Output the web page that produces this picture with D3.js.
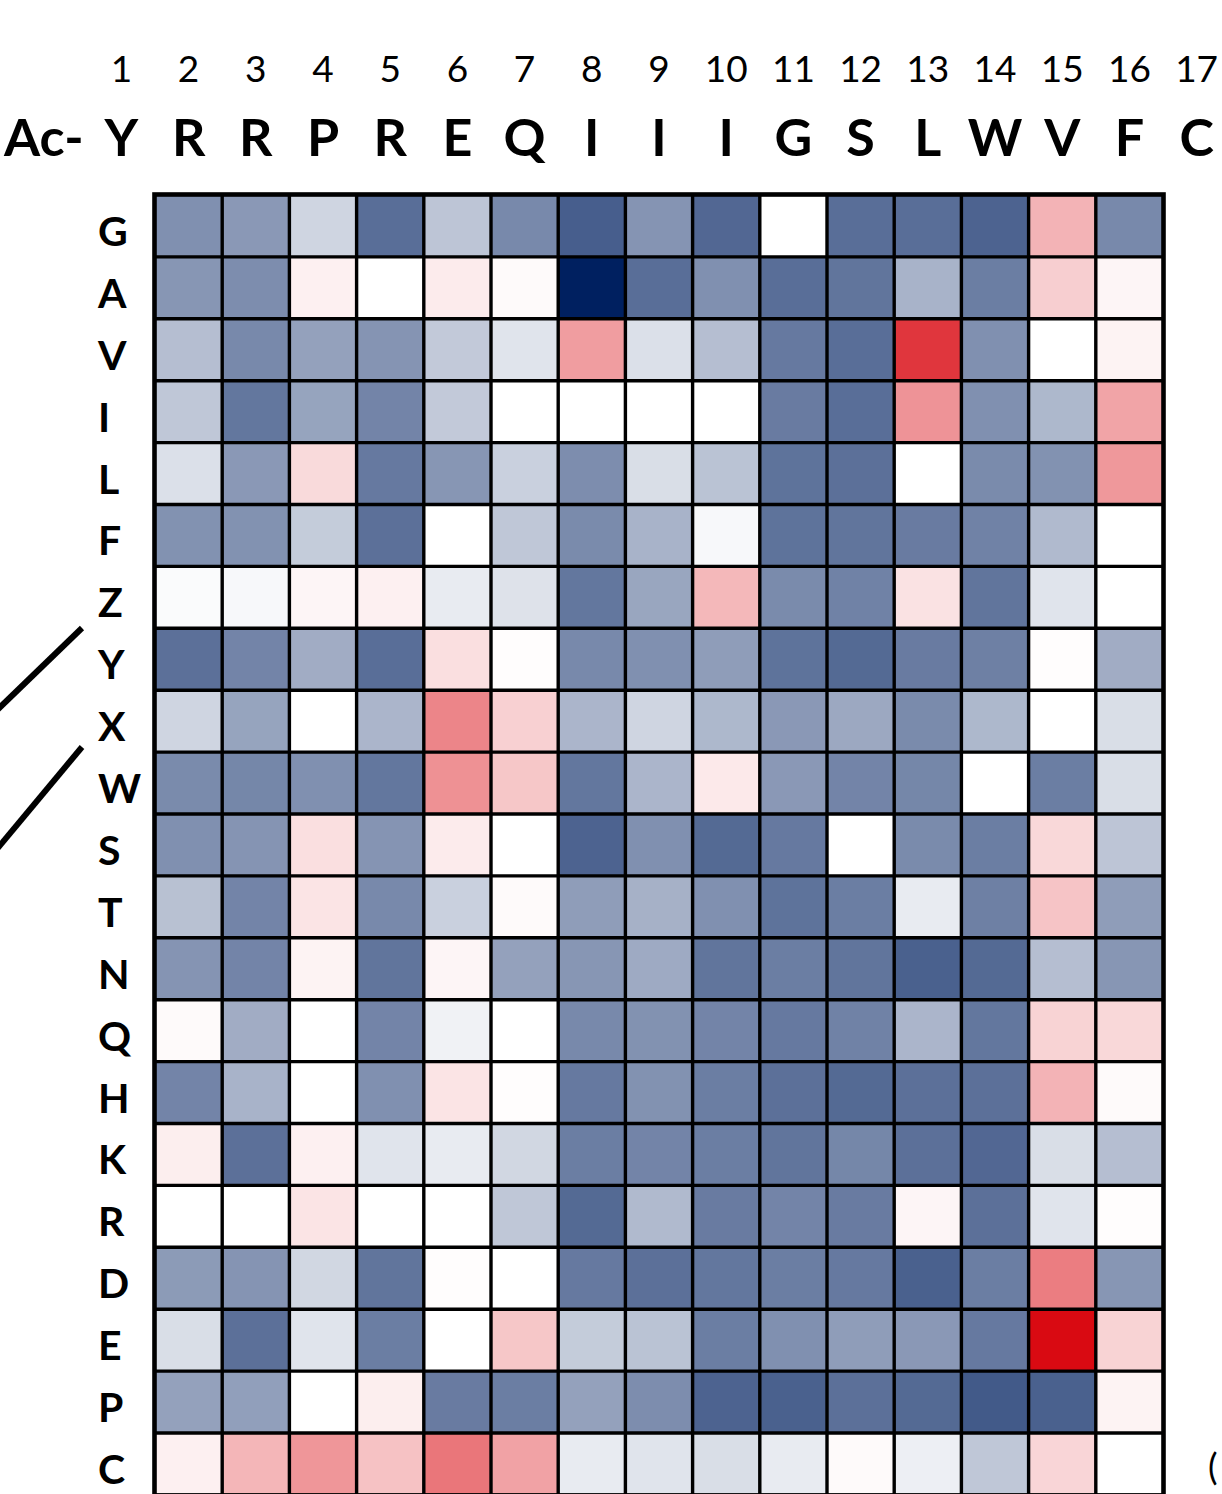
<!DOCTYPE html>
<html>
<head>
<meta charset="utf-8">
<script src="https://cdn.jsdelivr.net/npm/d3@7"></script>
<style>
  html, body { margin: 0; padding: 0; background: #ffffff; overflow: hidden; }
  svg { display: block; }
</style>
</head>
<body>
<svg id="chart" width="1222" height="1494"></svg>
<script>
// Peptide sequence positions along the top
const positionNumbers = [1, 2, 3, 4, 5, 6, 7, 8, 9, 10, 11, 12, 13, 14, 15, 16, 17];
const sequence = ["Y", "R", "R", "P", "R", "E", "Q", "I", "I", "I", "G", "S", "L", "W", "V", "F", "C"];
// Positions that were varied (heatmap columns)
const variedPositions = [2, 3, 4, 5, 6, 7, 8, 9, 10, 11, 12, 13, 14, 15, 16];
// Substituted residues (heatmap rows)
const substitutions = ["G", "A", "V", "I", "L", "F", "Z", "Y", "X", "W", "S", "T", "N", "Q", "H", "K", "R", "D", "E", "P", "C"];

// Relative score per substitution (row) and position (column):
// negative = loss (blue), positive = gain (red)
const scores = [
  [-0.50, -0.46, -0.19, -0.65, -0.26, -0.53, -0.72, -0.48, -0.68, 0.00, -0.65, -0.65, -0.70, 0.31, -0.53], // G
  [-0.47, -0.51, 0.06, 0.00, 0.08, 0.02, -1.00, -0.65, -0.50, -0.65, -0.62, -0.34, -0.58, 0.20, 0.04],    // A
  [-0.29, -0.53, -0.42, -0.48, -0.24, -0.12, 0.40, -0.14, -0.29, -0.60, -0.65, 0.82, -0.50, 0.00, 0.05],  // V
  [-0.25, -0.61, -0.41, -0.55, -0.24, 0.00, 0.00, 0.00, 0.00, -0.59, -0.65, 0.44, -0.50, -0.32, 0.37],    // I
  [-0.14, -0.46, 0.15, -0.60, -0.47, -0.21, -0.51, -0.15, -0.27, -0.63, -0.64, 0.00, -0.52, -0.49, 0.42], // L
  [-0.49, -0.49, -0.23, -0.64, 0.00, -0.25, -0.52, -0.34, -0.03, -0.63, -0.62, -0.59, -0.56, -0.31, 0.00],// F
  [-0.02, -0.03, 0.04, 0.06, -0.09, -0.13, -0.61, -0.40, 0.29, -0.52, -0.56, 0.12, -0.62, -0.12, 0.00],   // Z
  [-0.64, -0.55, -0.37, -0.65, 0.13, 0.01, -0.53, -0.50, -0.44, -0.63, -0.67, -0.59, -0.57, 0.01, -0.37], // Y
  [-0.19, -0.41, 0.00, -0.33, 0.50, 0.19, -0.33, -0.19, -0.32, -0.46, -0.39, -0.52, -0.32, 0.00, -0.15],  // X
  [-0.52, -0.54, -0.50, -0.61, 0.45, 0.23, -0.61, -0.33, 0.09, -0.46, -0.55, -0.54, 0.00, -0.58, -0.15],  // W
  [-0.50, -0.48, 0.13, -0.48, 0.08, 0.00, -0.70, -0.50, -0.67, -0.60, 0.00, -0.52, -0.58, 0.16, -0.26],   // S
  [-0.28, -0.55, 0.11, -0.53, -0.21, 0.02, -0.44, -0.35, -0.50, -0.63, -0.58, -0.09, -0.57, 0.24, -0.44], // T
  [-0.48, -0.55, 0.05, -0.62, 0.04, -0.42, -0.47, -0.38, -0.62, -0.58, -0.62, -0.71, -0.67, -0.29, -0.47],// N
  [0.02, -0.37, 0.00, -0.55, -0.06, 0.00, -0.53, -0.49, -0.55, -0.60, -0.56, -0.33, -0.61, 0.18, 0.16],   // Q
  [-0.55, -0.34, 0.00, -0.50, 0.11, 0.01, -0.60, -0.49, -0.58, -0.64, -0.67, -0.64, -0.64, 0.31, 0.02],   // H
  [0.07, -0.64, 0.06, -0.12, -0.09, -0.18, -0.58, -0.55, -0.58, -0.62, -0.54, -0.64, -0.68, -0.15, -0.29],// K
  [0.00, 0.00, 0.11, 0.00, 0.00, -0.25, -0.67, -0.31, -0.59, -0.55, -0.59, 0.04, -0.64, -0.12, 0.01],     // R
  [-0.45, -0.48, -0.18, -0.62, 0.01, 0.00, -0.60, -0.64, -0.61, -0.58, -0.60, -0.71, -0.58, 0.53, -0.47], // D
  [-0.15, -0.64, -0.12, -0.58, 0.00, 0.23, -0.23, -0.27, -0.58, -0.50, -0.44, -0.46, -0.60, 1.00, 0.18],  // E
  [-0.42, -0.43, 0.00, 0.07, -0.59, -0.58, -0.42, -0.51, -0.70, -0.71, -0.64, -0.67, -0.74, -0.71, 0.05], // P
  [0.06, 0.30, 0.43, 0.25, 0.56, 0.38, -0.09, -0.12, -0.15, -0.09, 0.02, -0.07, -0.25, 0.17, 0.00]        // C
];

const svg = d3.select("#chart");
const FONT = "Lato, 'Open Sans', 'DejaVu Sans', sans-serif";

const gridLeft = 155, gridRight = 1163, gridTop = 195, rowH = 61.9;

const x = d3.scaleBand().domain(variedPositions).range([gridLeft, gridRight]).padding(0);
const y = d3.scaleBand().domain(substitutions).range([gridTop, gridTop + rowH * substitutions.length]).padding(0);
const colW = x.bandwidth();

// Sequence positions 1..17 share the column spacing
const xPos = d3.scaleLinear()
  .domain([variedPositions[0], variedPositions[variedPositions.length - 1]])
  .range([x(variedPositions[0]) + colW / 2, x(variedPositions[variedPositions.length - 1]) + colW / 2]);

const color = d3.scaleLinear()
  .domain([-1, 0, 1])
  .range(["#002060", "#ffffff", "#d90a12"])
  .interpolate(d3.interpolateRgb)
  .clamp(true);

// Cells
const cells = [];
scores.forEach((row, ri) => row.forEach((v, ci) => cells.push({ r: substitutions[ri], c: variedPositions[ci], v })));

svg.append("g").selectAll("rect")
  .data(cells)
  .join("rect")
  .attr("x", d => x(d.c))
  .attr("y", d => y(d.r))
  .attr("width", colW)
  .attr("height", y.bandwidth())
  .attr("fill", d => color(d.v));

// Grid lines
const gridG = svg.append("g").attr("stroke", "#000").attr("stroke-width", 3.4);
const gridBottom = gridTop + rowH * substitutions.length;
variedPositions.slice(1).forEach(p => {
  gridG.append("line").attr("x1", x(p)).attr("x2", x(p)).attr("y1", gridTop).attr("y2", gridBottom);
});
substitutions.slice(1).forEach(s => {
  gridG.append("line").attr("x1", gridLeft).attr("x2", gridRight).attr("y1", y(s)).attr("y2", y(s));
});
svg.append("rect")
  .attr("x", gridLeft - 0.5).attr("y", gridTop - 0.5)
  .attr("width", gridRight - gridLeft + 1).attr("height", gridBottom - gridTop + 1)
  .attr("fill", "none").attr("stroke", "#000").attr("stroke-width", 4.6);

// Position numbers
svg.append("g").selectAll("text")
  .data(positionNumbers)
  .join("text")
  .attr("x", d => xPos(d))
  .attr("y", 82)
  .attr("text-anchor", "middle")
  .attr("font-family", FONT)
  .attr("font-size", 37)
  .attr("fill", "#000")
  .text(d => d);

// Sequence letters
svg.append("g").selectAll("text")
  .data(sequence)
  .join("text")
  .attr("x", (d, i) => xPos(positionNumbers[i]))
  .attr("y", 156)
  .attr("text-anchor", "middle")
  .attr("font-family", FONT)
  .attr("font-weight", 700)
  .attr("font-size", 52)
  .attr("fill", "#000")
  .text(d => d);

svg.append("text")
  .attr("x", 4).attr("y", 156)
  .attr("font-family", FONT).attr("font-weight", 700).attr("font-size", 52)
  .attr("fill", "#000")
  .text("Ac-");

// Row labels
svg.append("g").selectAll("text")
  .data(substitutions)
  .join("text")
  .attr("x", 98)
  .attr("y", d => y(d) + y.bandwidth() / 2 + 20)
  .attr("font-family", FONT)
  .attr("font-weight", 700)
  .attr("font-size", 41)
  .attr("fill", "#000")
  .text(d => d);

// Bracket strokes to the left of the Y and X rows
const bracketLines = [
  { x1: 82, y1: 628, x2: -8, y2: 715 },
  { x1: 82, y1: 747, x2: -8, y2: 855 }
];
svg.append("g").selectAll("line")
  .data(bracketLines)
  .join("line")
  .attr("x1", d => d.x1).attr("y1", d => d.y1)
  .attr("x2", d => d.x2).attr("y2", d => d.y2)
  .attr("stroke", "#000").attr("stroke-width", 6);

// Parenthesis beginning a note at the right margin
svg.append("text")
  .attr("x", 1208).attr("y", 1480)
  .attr("font-family", FONT).attr("font-size", 36)
  .attr("fill", "#000")
  .text("(");
</script>
</body>
</html>
